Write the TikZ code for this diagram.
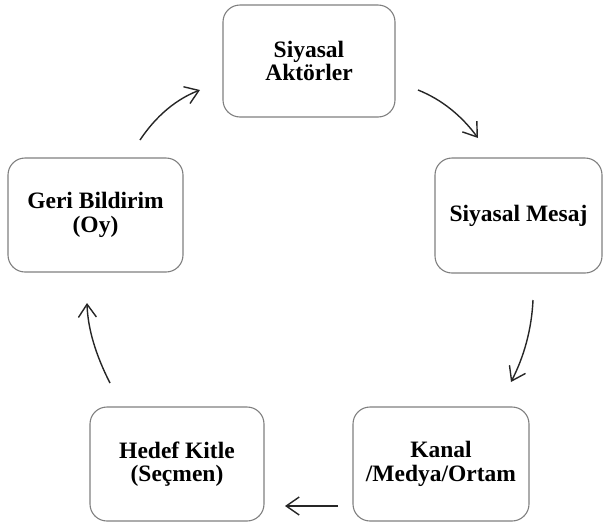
\documentclass[tikz,border=0pt]{standalone}
\usepackage{fontspec}
\setmainfont{Liberation Serif}
\usetikzlibrary{arrows.meta}
\begin{document}
\begin{tikzpicture}[x=1pt,y=-1pt,
  box/.style={draw=black!50, line width=1.1pt, fill=white, rounded corners=17pt,
    align=center, font=\fontsize{23.5}{23.5}\selectfont\bfseries, inner sep=0pt},
  flow/.style={line width=1.4pt, draw=black!85,
    -{Straight Barb[length=13pt,width=18pt,line width=1.4pt]}}]
\useasboundingbox (0,0) rectangle (603,528);
% boxes
\node[box, minimum width=172pt, minimum height=112pt] (act) at (309,61) {Siyasal\\Aktörler};
\node[box, minimum width=167pt, minimum height=115pt] (msg) at (518.5,215.5) {Siyasal Mesaj};
\node[box, minimum width=175pt, minimum height=114pt] (fb) at (95.5,215) {Geri Bildirim\\(Oy)};
\node[box, minimum width=176pt, minimum height=114pt] (ch) at (441,464) {Kanal\\/Medya/Ortam};
\node[box, minimum width=174pt, minimum height=114pt] (aud) at (177,464) {Hedef Kitle\\(Seçmen)};
% connector end points
\coordinate (a1s) at (418,90);  \coordinate (a1e) at (478,138);
\coordinate (a2s) at (533,300); \coordinate (a2e) at (511,382);
\coordinate (a3s) at (338,506); \coordinate (a3e) at (285,506);
\coordinate (a4s) at (110,383); \coordinate (a4e) at (87,303);
\coordinate (a5s) at (140,140); \coordinate (a5e) at (200,90);
% connectors
\draw[flow] (a1s) .. controls (441.3,99.3) and (461.3,115.3) .. (a1e);
\draw[flow] (a2s) .. controls (531.7,328.7) and (524.3,356) .. (a2e);
\draw[flow] (a3s) -- (a3e);
\draw[flow] (a4s) .. controls (95.3,354.3) and (87.7,327.7) .. (a4e);
\draw[flow] (a5s) .. controls (156,116) and (176,99.3) .. (a5e);
\end{tikzpicture}
\end{document}
